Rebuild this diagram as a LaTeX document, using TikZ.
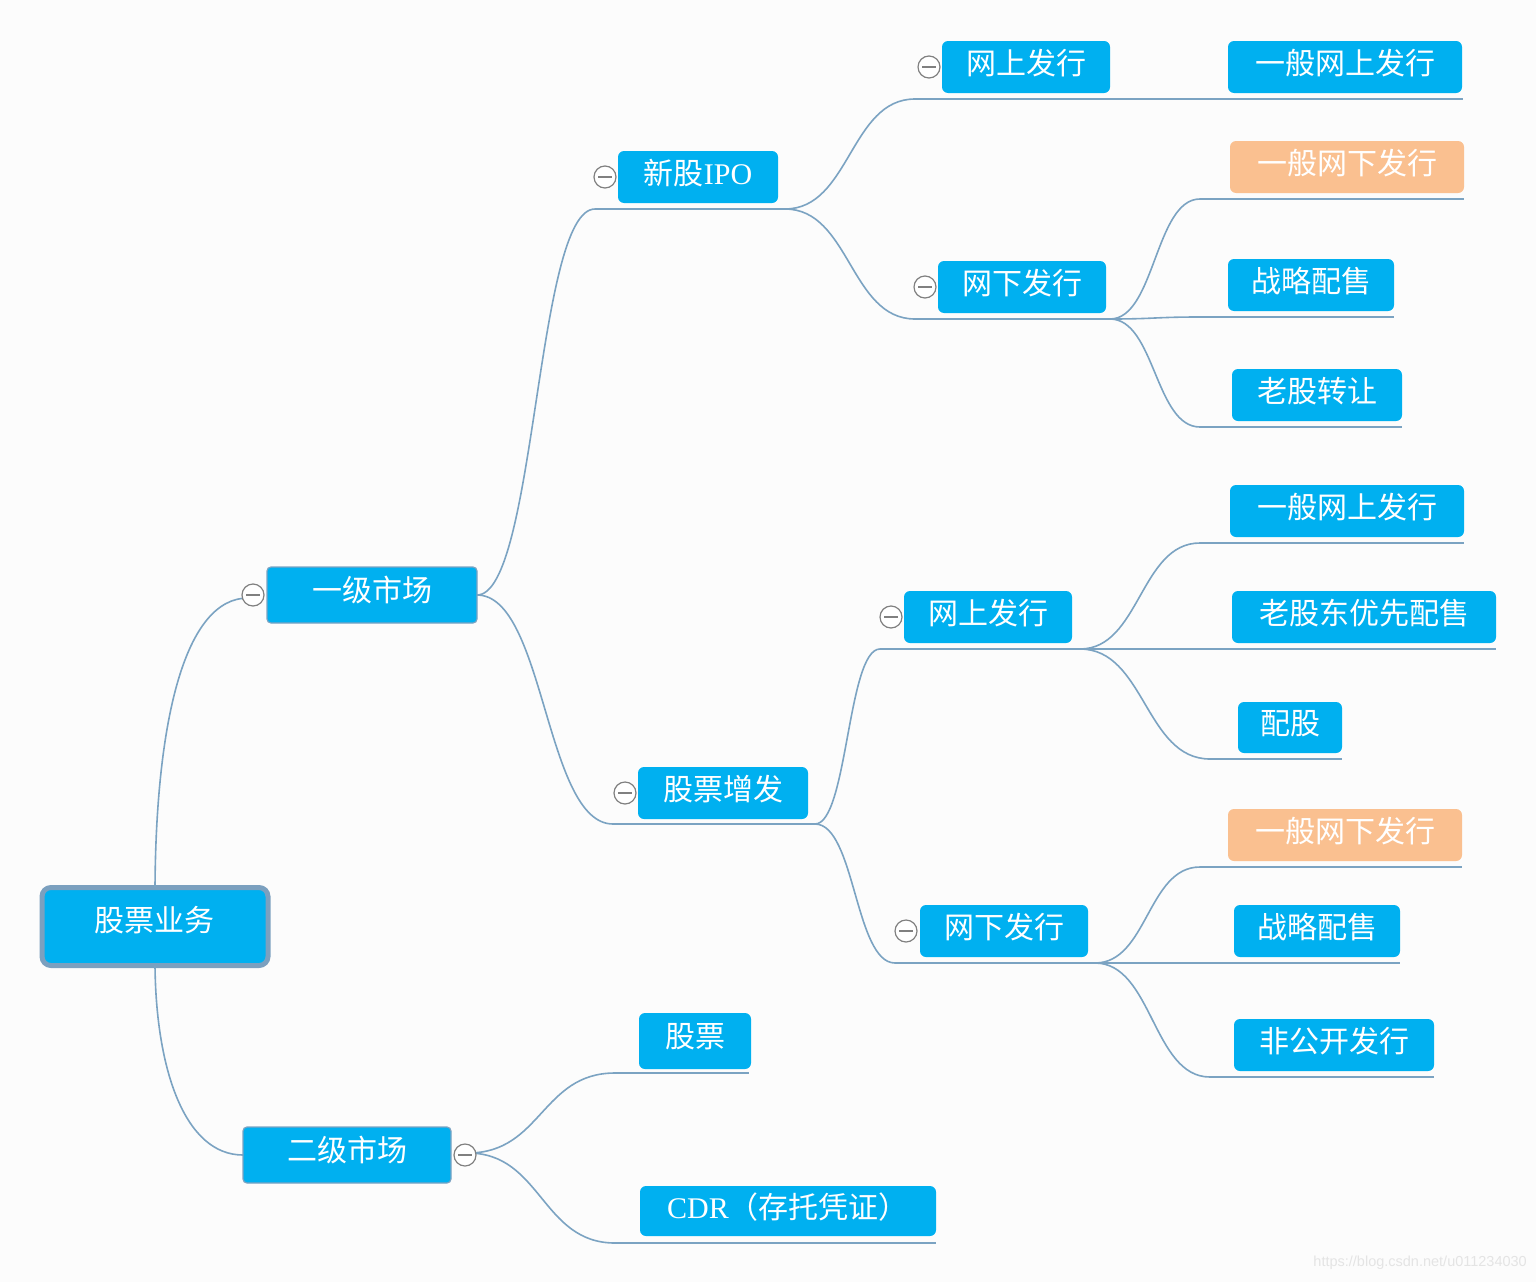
\documentclass[tikz,border=0pt]{standalone}
\usepackage{fontspec}
\newfontfamily\cjk{Noto Sans CJK SC}
\newfontfamily\lat{Liberation Serif}
\newfontfamily\wmfont{Liberation Sans}
\usetikzlibrary{calc}
\definecolor{bg}{HTML}{FCFCFC}
\definecolor{cblue}{HTML}{00B0F0}
\definecolor{corange}{HTML}{FAC090}
\definecolor{lnc}{HTML}{7BA3C2}
\definecolor{rootb}{HTML}{7BA0BF}
\definecolor{circc}{HTML}{808080}
\definecolor{wmc}{HTML}{E4E4E4}
\tikzset{
  boxst/.style={rectangle,rounded corners=6pt,inner sep=0pt,outer sep=0pt,draw=none},
  txt/.style={inner sep=0pt,text=white,font=\cjk\fontsize{30}{32}\selectfont},
  ln/.style={draw=lnc,line width=1.6pt},
  circ/.style={circle,draw=circc,fill=white,line width=1.2pt,minimum size=22pt,inner sep=0pt,
    path picture={\draw[circc,line width=1.5pt] ([xshift=-7pt]path picture bounding box.center) -- ([xshift=7pt]path picture bounding box.center);}}
}
% #1 fill, #2 name, #3 x1, #4 y1, #5 x2, #6 y2, #7 text
\newcommand\tbox[7][cblue]{%
  \node[boxst,fill=#1,minimum width={(#5-#3)*1pt},minimum height={(#6-#4)*1pt}] (#2) at ({(#3+#5)/2},{(#4+#6)/2}) {};
  \node[txt] (#2t) at ({(#3+#5)/2},{(#4+#6)/2-4}) {#7};}
% S-curve connector between named coordinates
\newcommand\scurve[2]{%
  \draw[ln] let \p1=(#1), \p2=(#2) in (\p1) .. controls ({(\x1+\x2)/2},\y1) and ({(\x1+\x2)/2},\y2) .. (\p2);}
\begin{document}
\begin{tikzpicture}[x=1pt,y=-1pt]
\fill[bg] (0,0) rectangle (1536,1282);
\useasboundingbox (0,0) rectangle (1536,1282);

% ---------- coordinates for underlines ----------
\coordinate (u1s) at (595,209);  \coordinate (u1e) at (785,209);
\coordinate (u2s) at (613,824);  \coordinate (u2e) at (815,824);
\coordinate (u11s) at (915,99);  \coordinate (u11e) at (1463,99);
\coordinate (u12s) at (915,319); \coordinate (u12e) at (1110,319);
\coordinate (u121s) at (1200,199); \coordinate (u121e) at (1464,199);
\coordinate (u122s) at (1200,317); \coordinate (u122e) at (1394,317);
\coordinate (u123s) at (1200,427); \coordinate (u123e) at (1402,427);
\coordinate (u21s) at (880,649);  \coordinate (u21e) at (1080,649);
\coordinate (u211s) at (1200,543); \coordinate (u211e) at (1464,543);
\coordinate (u212e) at (1496,649);
\coordinate (u213s) at (1210,759); \coordinate (u213e) at (1342,759);
\coordinate (u22s) at (895,963);  \coordinate (u22e) at (1095,963);
\coordinate (u221s) at (1200,867); \coordinate (u221e) at (1462,867);
\coordinate (u222e) at (1400,963);
\coordinate (u223s) at (1210,1077); \coordinate (u223e) at (1434,1077);
\coordinate (u31s) at (615,1073); \coordinate (u31e) at (749,1073);
\coordinate (u32s) at (615,1243); \coordinate (u32e) at (936,1243);

% ---------- boxes ----------
\node[boxst,fill=cblue,draw=rootb,line width=5pt,rounded corners=9pt,minimum width=226pt,minimum height=78pt] (root) at (155,926.5) {};
\node[txt] (roott) at (154,920) {股票业务};
\node[boxst,fill=cblue,draw=lnc,line width=1.2pt,rounded corners=4pt,minimum width=210pt,minimum height=56pt] (b1) at (372,595) {};
\node[txt] (b1t) at (372,590) {一级市场};
\node[boxst,fill=cblue,draw=lnc,line width=1.2pt,rounded corners=4pt,minimum width=208pt,minimum height=56pt] (b2) at (347,1155) {};
\node[txt] (b2t) at (347,1150) {二级市场};

\tbox{n1}{618}{151}{778}{203}{新股{\lat IPO}}
\tbox{n2}{638}{767}{808}{819}{股票增发}
\tbox{n11}{942}{41}{1110}{93}{网上发行}
\tbox{n111}{1228}{41}{1462}{93}{一般网上发行}
\tbox{n12}{938}{261}{1106}{313}{网下发行}
\tbox[corange]{n121}{1230}{141}{1464}{193}{一般网下发行}
\tbox{n122}{1228}{259}{1394}{311}{战略配售}
\tbox{n123}{1232}{369}{1402}{421}{老股转让}
\tbox{n21}{904}{591}{1072}{643}{网上发行}
\tbox{n211}{1230}{485}{1464}{537}{一般网上发行}
\tbox{n212}{1232}{591}{1496}{643}{老股东优先配售}
\tbox{n213}{1238}{702}{1342}{753}{配股}
\tbox{n22}{920}{905}{1088}{957}{网下发行}
\tbox[corange]{n221}{1228}{809}{1462}{861}{一般网下发行}
\tbox{n222}{1234}{905}{1400}{957}{战略配售}
\tbox{n223}{1234}{1019}{1434}{1071}{非公开发行}
\tbox{n31}{639}{1013}{751}{1069}{股票}
\tbox{n32}{640}{1186}{936}{1236}{{\lat CDR}（存托凭证）}

% ---------- connectors ----------
\coordinate (c1p) at (248,598);
\draw[ln] (root.north) .. controls (156,720) and (185,598) .. (c1p);
\draw[ln] (root.south) .. controls (156,1070) and (185,1155) .. (b2.west);
\scurve{b1.east}{u1s}
\scurve{b1.east}{u2s}
\draw[ln] (u1s) -- (u1e);
\draw[ln] (u2s) -- (u2e);
\scurve{u1e}{u11s}
\scurve{u1e}{u12s}
\draw[ln] (u11s) -- (u11e);
\draw[ln] (u12s) -- (u12e);
\scurve{u12e}{u121s}
\scurve{u12e}{u122s}
\scurve{u12e}{u123s}
\draw[ln] (u121s) -- (u121e);
\draw[ln] (u122s) -- (u122e);
\draw[ln] (u123s) -- (u123e);
\scurve{u2e}{u21s}
\scurve{u2e}{u22s}
\draw[ln] (u21s) -- (u21e);
\draw[ln] (u22s) -- (u22e);
\scurve{u21e}{u211s}
\draw[ln] (u21e) -- (u212e);
\scurve{u21e}{u213s}
\draw[ln] (u211s) -- (u211e);
\draw[ln] (u213s) -- (u213e);
\scurve{u22e}{u221s}
\draw[ln] (u22e) -- (u222e);
\scurve{u22e}{u223s}
\draw[ln] (u221s) -- (u221e);
\draw[ln] (u223s) -- (u223e);
\coordinate (c3p) at (468,1153);
\scurve{c3p}{u31s}
\scurve{c3p}{u32s}
\draw[ln] (u31s) -- (u31e);
\draw[ln] (u32s) -- (u32e);

% ---------- collapse circles ----------
\node[circ] (c1) at (253,595) {};
\node[circ] (c3) at (465,1155) {};
\node[circ] (cn1) at (605,177) {};
\node[circ] (cn2) at (625,793) {};
\node[circ] (cn11) at (929,67) {};
\node[circ] (cn12) at (925,287) {};
\node[circ] (cn21) at (891,617) {};
\node[circ] (cn22) at (906,931) {};

% watermark
\node[text=wmc,font=\wmfont\fontsize{14.5}{16}\selectfont,anchor=east,inner sep=0pt] (wm) at (1527,1263) {https://blog.csdn.net/u011234030};
\end{tikzpicture}
\end{document}
